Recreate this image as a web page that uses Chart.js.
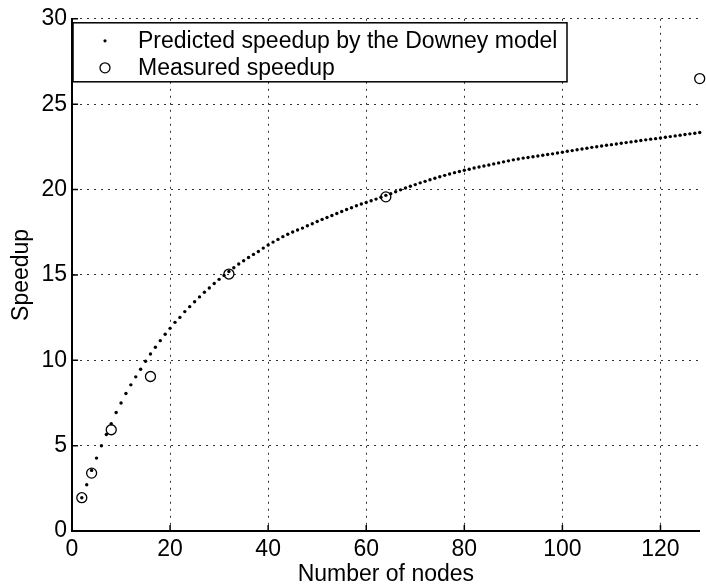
<!DOCTYPE html>
<html>
<head>
<meta charset="utf-8">
<script src="https://cdn.jsdelivr.net/npm/chart.js@4/dist/chart.umd.min.js"></script>
<style>
    html, body { margin: 0; padding: 0; background: #fff; }
    #wrap { width: 706px; height: 588px; position: relative; }
</style>
</head>
<body>
<div id="wrap"><canvas id="speedup-chart"></canvas></div>
<script>
// =====================
// DATA
// =====================

const predictedNodes = [
    2, 3, 4, 5, 6, 7, 8, 9, 10, 11, 12, 13, 14, 15, 16, 17, 18, 19, 20,
    21, 22, 23, 24, 25, 26, 27, 28, 29, 30, 31, 32, 33, 34, 35, 36, 37, 38, 39, 40,
    41, 42, 43, 44, 45, 46, 47, 48, 49, 50, 51, 52, 53, 54, 55, 56, 57, 58, 59, 60,
    61, 62, 63, 64, 65, 66, 67, 68, 69, 70, 71, 72, 73, 74, 75, 76, 77, 78, 79, 80,
    81, 82, 83, 84, 85, 86, 87, 88, 89, 90, 91, 92, 93, 94, 95, 96, 97, 98, 99, 100,
    101, 102, 103, 104, 105, 106, 107, 108, 109, 110, 111, 112, 113, 114, 115, 116, 117, 118, 119, 120,
    121, 122, 123, 124, 125, 126, 127, 128
];

const predictedSpeedup = [
    1.95, 2.71, 3.55, 4.27, 4.99, 5.65, 6.28, 6.94, 7.50, 8.05, 8.56, 9.03, 9.47, 9.94, 10.37, 10.76, 11.15, 11.52, 11.87,
    12.22, 12.51, 12.85, 13.14, 13.43, 13.71, 13.98, 14.23, 14.50, 14.74, 14.97, 15.20, 15.42, 15.64, 15.83, 16.02, 16.20, 16.37, 16.57, 16.75,
    16.92, 17.08, 17.24, 17.38, 17.51, 17.63, 17.74, 17.88, 18.00, 18.13, 18.25, 18.36, 18.48, 18.60, 18.71, 18.83, 18.93, 19.05, 19.15, 19.24,
    19.34, 19.44, 19.55, 19.66, 19.76, 19.87, 19.98, 20.09, 20.19, 20.29, 20.39, 20.48, 20.57, 20.66, 20.75, 20.83, 20.91, 20.99, 21.06, 21.13,
    21.19, 21.26, 21.32, 21.38, 21.44, 21.50, 21.56, 21.62, 21.68, 21.74, 21.79, 21.84, 21.88, 21.92, 21.96, 22.01, 22.05, 22.09, 22.14, 22.19,
    22.24, 22.28, 22.33, 22.37, 22.42, 22.47, 22.51, 22.55, 22.59, 22.63, 22.67, 22.71, 22.75, 22.79, 22.83, 22.87, 22.91, 22.95, 22.98, 23.02,
    23.06, 23.10, 23.14, 23.18, 23.22, 23.26, 23.30, 23.34
];

const measuredNodes = [2, 4, 8, 16, 32, 64, 128];
const measuredSpeedup = [1.95, 3.39, 5.93, 9.05, 15.05, 19.57, 26.5];

const xTicks = [0, 20, 40, 60, 80, 100, 120];
const yTicks = [0, 5, 10, 15, 20, 25, 30];

const legendLabels = ['Predicted speedup by the Downey model', 'Measured speedup'];

// =====================
// HELPERS
// =====================

function toPoints(xs, ys) {
    return xs.map((x, i) => ({ x: x, y: ys[i] }));
}

const FONT = 'Liberation Sans, Arial, Helvetica, sans-serif';
const FONT_SIZE = 23;

// legend drawn inside the plot, matlab style
const boxLegend = {
    id: 'boxLegend',
    afterDraw(chart) {
        const ctx = chart.ctx;
        const area = chart.chartArea;
        const x0 = area.left + 1;
        const y0 = area.top + 4;
        const w = 494;
        const h = 59;

        ctx.save();
        ctx.fillStyle = '#fff';
        ctx.fillRect(x0, y0, w, h);
        ctx.strokeStyle = '#000';
        ctx.lineWidth = 1.5;
        ctx.strokeRect(x0, y0, w, h);

        const markX = x0 + 32;
        const rows = [y0 + 18, y0 + 45];

        ctx.fillStyle = '#000';
        ctx.beginPath();
        ctx.arc(markX, rows[0], 1.6, 0, Math.PI * 2);
        ctx.fill();

        ctx.lineWidth = 1.3;
        ctx.beginPath();
        ctx.arc(markX, rows[1], 5, 0, Math.PI * 2);
        ctx.stroke();

        ctx.font = FONT_SIZE + 'px ' + FONT;
        ctx.textBaseline = 'middle';
        ctx.textAlign = 'left';
        legendLabels.forEach((label, i) => {
            ctx.fillText(label, x0 + 65, rows[i] + 1);
        });
        ctx.restore();
    },
};

// small inward tick marks on the bottom and left axes
const innerTicks = {
    id: 'innerTicks',
    afterDatasetsDraw(chart) {
        const ctx = chart.ctx;
        const area = chart.chartArea;
        const { x, y } = chart.scales;
        ctx.save();
        ctx.strokeStyle = '#000';
        ctx.lineWidth = 1.5;
        ctx.beginPath();
        xTicks.forEach(v => {
            const px = x.getPixelForValue(v);
            ctx.moveTo(px, area.bottom);
            ctx.lineTo(px, area.bottom - 6);
        });
        yTicks.forEach(v => {
            const py = y.getPixelForValue(v);
            ctx.moveTo(area.left, py);
            ctx.lineTo(area.left + 6, py);
        });
        ctx.stroke();
        ctx.restore();
    },
};

function axisOptions(min, max, title, ticks) {
    return {
        type: 'linear',
        min: min,
        max: max,
        afterBuildTicks: scale => {
            scale.ticks = ticks.map(v => ({ value: v }));
        },
        ticks: {
            color: '#000',
            font: { family: FONT, size: FONT_SIZE },
            padding: 4,
            maxRotation: 0,
        },
        grid: {
            color: '#333',
            lineWidth: 1,
            drawTicks: false,
        },
        border: {
            display: true,
            color: '#000',
            width: 2,
            dash: [2, 5],
        },
        title: {
            display: true,
            text: title,
            color: '#000',
            font: { family: FONT, size: FONT_SIZE },
            padding: 0,
        },
    };
}

// =====================
// CHART
// =====================

const xAxis = axisOptions(0, 128, 'Number of nodes', xTicks);
xAxis.afterFit = scale => { scale.height = 57; };
xAxis.ticks.padding = 5;

const yAxis = axisOptions(0, 30, 'Speedup', yTicks);
yAxis.afterFit = scale => { scale.width = 72; };
yAxis.ticks.padding = 5;
yAxis.title.padding = { top: 8, bottom: 0 };

new Chart(document.getElementById('speedup-chart'), {
    type: 'scatter',
    data: {
        datasets: [
            {
                label: legendLabels[0],
                data: toPoints(predictedNodes, predictedSpeedup),
                pointStyle: 'circle',
                pointRadius: 1.7,
                pointBackgroundColor: '#000',
                pointBorderWidth: 0,
                showLine: false,
                clip: false,
            },
            {
                label: legendLabels[1],
                data: toPoints(measuredNodes, measuredSpeedup),
                pointStyle: 'circle',
                pointRadius: 5,
                pointBackgroundColor: 'rgba(0,0,0,0)',
                pointBorderColor: '#000',
                pointBorderWidth: 1.3,
                showLine: false,
                clip: false,
            },
        ],
    },
    options: {
        responsive: true,
        maintainAspectRatio: false,
        animation: false,
        devicePixelRatio: 1,
        layout: { padding: { top: 18, right: 3, left: 0, bottom: 0 } },
        plugins: {
            legend: { display: false },
            tooltip: { enabled: false },
        },
        scales: {
            x: xAxis,
            y: yAxis,
        },
    },
    plugins: [innerTicks, boxLegend],
});
</script>
</body>
</html>
